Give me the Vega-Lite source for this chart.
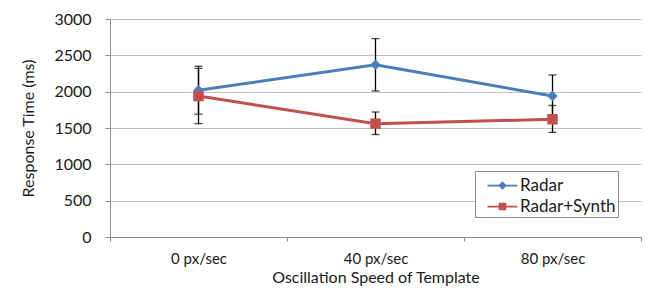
{
  "$schema": "https://vega.github.io/schema/vega-lite/v6.json",
  "autosize": "none",
  "width": 531,
  "height": 218,
  "padding": {"left": 110, "top": 19, "right": 8, "bottom": 55},
  "background": "white",
  "config": {
    "font": "Lato",
    "view": {"stroke": null},
    "axis": {"labelFont": "Lato", "titleFont": "Lato", "labelColor": "#1a1a1a", "titleColor": "#1a1a1a", "titleFontWeight": "normal", "labelFontSize": 16, "titleFontSize": 16, "domainColor": "#8c8c8c", "tickColor": "#8c8c8c", "gridColor": "#c0c0c0"}
  },
  "data": {
    "values": [
      {"speed": "0 px/sec", "series": "Radar", "value": 2020, "lo": 1690, "hi": 2350},
      {"speed": "40 px/sec", "series": "Radar", "value": 2370, "lo": 2010, "hi": 2730},
      {"speed": "80 px/sec", "series": "Radar", "value": 1940, "lo": 1650, "hi": 2230},
      {"speed": "0 px/sec", "series": "Radar+Synth", "value": 1940, "lo": 1560, "hi": 2320},
      {"speed": "40 px/sec", "series": "Radar+Synth", "value": 1560, "lo": 1410, "hi": 1720},
      {"speed": "80 px/sec", "series": "Radar+Synth", "value": 1620, "lo": 1440, "hi": 1810}
    ]
  },
  "encoding": {
    "x": {
      "field": "speed", "type": "nominal", "sort": ["0 px/sec", "40 px/sec", "80 px/sec"],
      "scale": {"paddingInner": 0, "paddingOuter": 0},
      "axis": {"title": "Oscillation Speed of Template", "labelAngle": 0, "tickBand": "extent", "tickSize": 4, "labelPadding": 10, "labelFontSize": 15, "titlePadding": 3, "grid": false}
    },
    "y": {"field": "value", "type": "quantitative", "scale": {"domain": [0, 3000]},
      "axis": {"title": "Response Time (ms)", "values": [0, 500, 1000, 1500, 2000, 2500, 3000], "format": "d", "labelOverlap": false, "tickSize": 5, "labelPadding": 14, "titlePadding": 17, "grid": true}},
    "color": {"field": "series", "type": "nominal", "scale": {"domain": ["Radar", "Radar+Synth"], "range": ["#4a7ebb", "#c0504d"]},
      "legend": {
        "title": null, "orient": "none", "legendX": 365, "legendY": 152,
        "labelFont": "Lato", "labelFontSize": 17, "labelColor": "#1a1a1a",
        "symbolSize": 625, "symbolStrokeWidth": 0, "symbolType": "M-1.2,-0.07H1.2V0.07H-1.2Z M0,-0.34L0.34,0L0,0.34L-0.34,0Z", "rowPadding": 0,
        "symbolOffset": 13, "labelOffset": 5, "labelExpr": "datum.label + '         '",
        "strokeColor": "#8c8c8c", "fillColor": "white", "padding": 2,
        "encode": {"symbols": {"update": {"fill": {"signal": "datum.value == 'Radar' ? '#4a7ebb' : '#c0504d'"}, "opacity": {"value": 1}, "shape": {"signal": "datum.value == 'Radar' ? 'M-1.2,-0.07H1.2V0.07H-1.2Z M0,-0.34L0.34,0L0,0.34L-0.34,0Z' : 'M-1.2,-0.07H1.2V0.07H-1.2Z M-0.3,-0.3H0.3V0.3H-0.3Z'"}}}}
      }}
  },
  "layer": [
    {
      "mark": {"type": "line", "strokeWidth": 3}
    },
    {
      "mark": {"type": "rule", "color": "black", "strokeWidth": 1.3},
      "encoding": {"y": {"field": "lo", "type": "quantitative"}, "y2": {"field": "hi"}, "color": {"value": "black"}}
    },
    {
      "mark": {"type": "tick", "color": "black", "size": 8, "thickness": 1.3},
      "encoding": {"y": {"field": "lo", "type": "quantitative"}, "color": {"value": "black"}}
    },
    {
      "mark": {"type": "tick", "color": "black", "size": 8, "thickness": 1.3},
      "encoding": {"y": {"field": "hi", "type": "quantitative"}, "color": {"value": "black"}}
    },
    {
      "transform": [{"filter": "datum.series == 'Radar'"}],
      "mark": {"type": "point", "filled": true, "opacity": 1, "size": 110, "shape": "diamond"}
    },
    {
      "transform": [{"filter": "datum.series == 'Radar+Synth'"}],
      "mark": {"type": "point", "filled": true, "opacity": 1, "size": 110, "shape": "square"}
    }
  ]
}
